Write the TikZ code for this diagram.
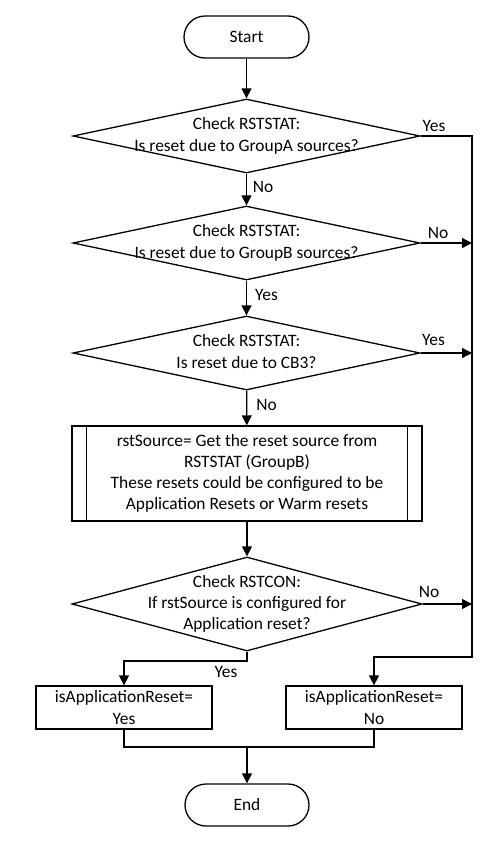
\documentclass[tikz,border=0pt]{standalone}
\usepackage{fontspec}
\setmainfont{Carlito}
\usetikzlibrary{shapes.geometric,arrows.meta}
\newcommand\dtext[1]{\smash{\raisebox{-4.5pt}{\makebox[0pt]{\begin{tabular}{@{}c@{}}#1\end{tabular}}}}}
\begin{document}
\begin{tikzpicture}[x=1pt,y=-1pt,
  font=\fontsize{17.4}{21.2}\selectfont,
  line width=1.3pt,
  term/.style={draw, rectangle, rounded corners=21pt, minimum width=125pt, minimum height=42pt, inner sep=0pt},
  decision/.style={draw, diamond, inner sep=0pt, minimum width=347pt, minimum height=74pt},
  procbox/.style={draw, rectangle, minimum width=350pt, minimum height=95pt, align=center, inner sep=0pt},
  outbox/.style={draw, rectangle, minimum width=176pt, minimum height=43pt, align=center, inner sep=0pt},
  lbl/.style={inner sep=0pt, anchor=center},
  arr/.style={-{Triangle[length=10pt,width=10pt]}}
]
\useasboundingbox (0,0) rectangle (502,841);

\node[term] (start) at (246.5,37) {Start};
\node[decision] (d1) at (246.5,136) {\dtext{Check RSTSTAT:\\Is reset due to GroupA sources?}};
\node[decision] (d2) at (246.5,243) {\dtext{Check RSTSTAT:\\Is reset due to GroupB sources?}};
\node[decision] (d3) at (246.5,353) {\dtext{Check RSTSTAT:\\Is reset due to CB3?}};
\node[procbox] (proc) at (247,473.5) {rstSource= Get the reset source from\\RSTSTAT (GroupB)\\These resets could be configured to be\\Application Resets or Warm resets};
\draw ([xshift=15pt]proc.north west) -- ([xshift=15pt]proc.south west);
\draw ([xshift=-15pt]proc.north east) -- ([xshift=-15pt]proc.south east);
\node[decision, minimum width=350pt, minimum height=94pt] (d4) at (247,604) {\dtext{Check RSTCON:\\If rstSource is configured for\\Application reset?}};
\node[outbox] (outL) at (124,707.5) {isApplicationReset=\\Yes};
\node[outbox] (outR) at (374,707.5) {isApplicationReset=\\No};
\node[term, minimum width=124pt] (end) at (247,805) {End};

\coordinate (rtop) at (472,136);
\coordinate (rbot) at (472,657);
\coordinate (yb) at (247,661);
\coordinate (mg) at (247,747);

\draw[arr] (start) -- (d1);
\draw[arr] (d1) -- (d2);
\draw[arr] (d2) -- (d3);
\draw[arr] (d3) -- (proc);
\draw[arr] (proc) -- (d4);
\draw[arr] (d1.east) -- (rtop) -- (rbot) -| (outR);
\draw[arr] (d2.east) -- (d2.east -| rtop);
\draw[arr] (d3.east) -- (d3.east -| rtop);
\draw[arr] (d4.east) -- (d4.east -| rtop);
\draw[arr] (d4.south) -- (yb) -| (outL);
\draw (outL.south) |- (mg) -| (outR.south);
\draw[arr] (mg) -- (end);

\node[lbl] (l1) at (434,126) {Yes};
\node[lbl] (l2) at (263,187) {No};
\node[lbl] (l3) at (438,233) {No};
\node[lbl] (l4) at (266.5,295) {Yes};
\node[lbl] (l5) at (433.5,340) {Yes};
\node[lbl] (l6) at (266.5,405) {No};
\node[lbl] (l7) at (429,592) {No};
\node[lbl] (l8) at (226,672) {Yes};
\end{tikzpicture}
\end{document}
